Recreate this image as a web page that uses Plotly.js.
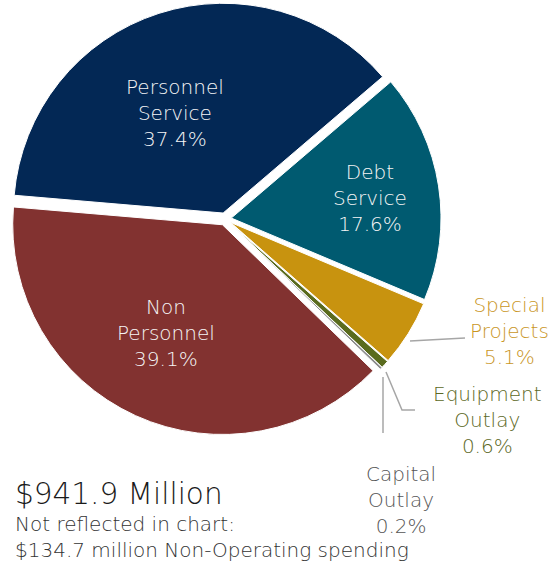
<!DOCTYPE html>
<html>
<head>
<meta charset="utf-8">
<script src="https://cdn.plot.ly/plotly-3.0.1.min.js"></script>
<style>html,body{margin:0;padding:0;background:#fff;}#chart{width:550px;height:565px;}</style>
</head>
<body>
<div id="chart"></div>
<script>
// Data (clockwise order starting at Debt Service)
var categories = ["Debt Service", "Special Projects", "Equipment Outlay", "Capital Outlay", "Non Personnel", "Personnel Service"];
var labelLines = ["Debt<br>Service", "Special<br>Projects", "Equipment<br>Outlay", "Capital<br>Outlay", "Non<br>Personnel", "Personnel<br>Service"];
var shares = [17.6, 5.1, 0.6, 0.2, 39.1, 37.4];
var sliceColors = ["#005A70", "#C8930F", "#5A6B1E", "#8C8C8C", "#823230", "#032855"];
var labelColors = ["#F5F5F5", "#C9961F", "#5C6824", "#555555", "#F5F5F5", "#F5F5F5"];
var totalText = "$941.9 Million";
var noteLines = ["Not reflected in chart:", "$134.7 million Non-Operating spending"];

var FONT = "'DejaVu Sans', sans-serif";
var W = 200;

var trace = {
  type: "pie",
  labels: categories,
  values: shares,
  textinfo: "none",
  sort: false,
  direction: "clockwise",
  rotation: 49.5,
  pull: [0.03, 0.03, 0.03, 0.03, 0.03, 0.03],
  marker: {colors: sliceColors, line: {color: "#ffffff", width: 1}},
  domain: {x: [0.0164, 0.802], y: [0.23, 0.9947]},
  hoverinfo: "label+percent",
  showlegend: false
};

// label anchor positions (pixels) for each slice label
var labelPos = [
  {idx: 0, x: 370, y: 198},
  {idx: 1, x: 509, y: 331},
  {idx: 2, x: 487, y: 420},
  {idx: 3, x: 401, y: 500},
  {idx: 4, x: 166, y: 333},
  {idx: 5, x: 175, y: 113}
];
var annotations = labelPos.map(function (o) {
  return {
    xref: "paper", yref: "paper",
    x: o.x / 550, y: 1 - o.y / 565,
    xanchor: "center", yanchor: "middle",
    showarrow: false, align: "center",
    text: labelLines[o.idx] + "<br>" + shares[o.idx].toFixed(1) + "%",
    font: {family: FONT, size: 20, color: labelColors[o.idx], weight: W}
  };
});
annotations.push({
  xref: "paper", yref: "paper", x: 13 / 550, y: 1 - 494 / 565,
  xanchor: "left", yanchor: "middle", showarrow: false,
  text: totalText, font: {family: FONT, size: 29.5, color: "#1A1A1A", weight: W}
});
annotations.push({
  xref: "paper", yref: "paper", x: 13 / 550, y: 1 - 537 / 565,
  xanchor: "left", yanchor: "middle", showarrow: false, align: "left",
  text: noteLines.join("<br>"), font: {family: FONT, size: 20, color: "#333333", weight: W}
});

function px(x, y) { return [x / 550, 1 - y / 565]; }
function path(pts) {
  return pts.map(function (p, i) { var q = px(p[0], p[1]); return (i ? "L" : "M") + q[0] + "," + q[1]; }).join(" ");
}
var lineStyle = {color: "#A6A6A6", width: 1.5};
var shapes = [
  {type: "path", xref: "paper", yref: "paper", path: path([[410, 341], [465, 338]]), line: lineStyle},
  {type: "path", xref: "paper", yref: "paper", path: path([[386, 372], [402, 410], [415, 410]]), line: lineStyle},
  {type: "path", xref: "paper", yref: "paper", path: path([[383, 377], [383, 433]]), line: lineStyle}
];

var layout = {
  width: 550, height: 565,
  margin: {l: 0, r: 0, t: 0, b: 0},
  paper_bgcolor: "#ffffff",
  font: {family: FONT},
  annotations: annotations,
  shapes: shapes
};

Plotly.newPlot("chart", [trace], layout, {staticPlot: true});
</script>
</body>
</html>
